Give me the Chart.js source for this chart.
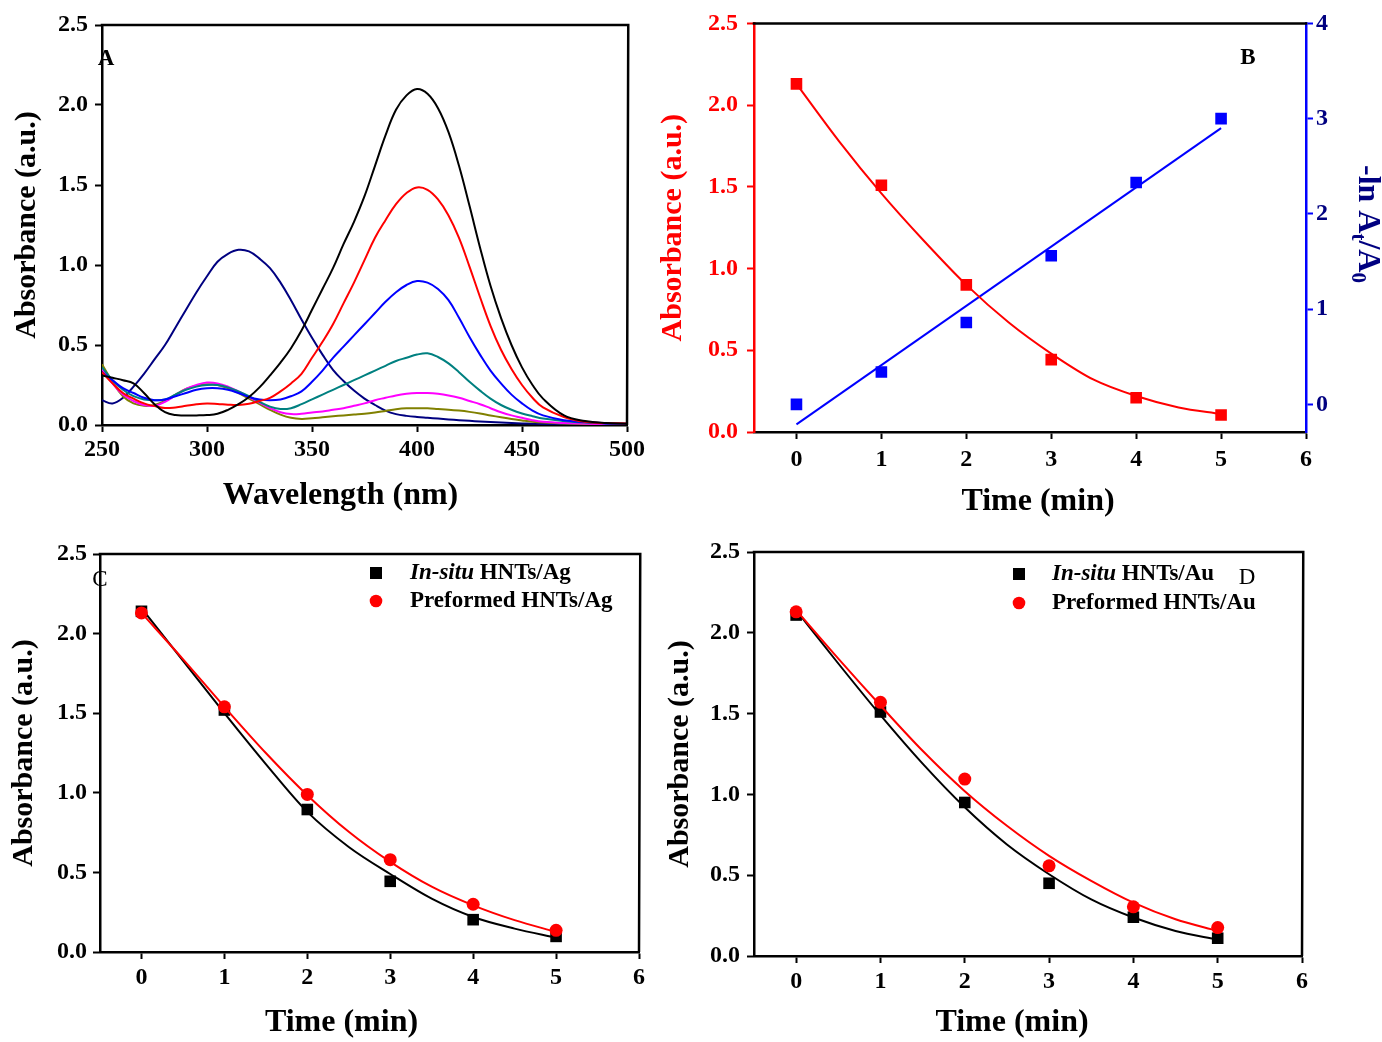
<!DOCTYPE html>
<html>
<head>
<meta charset="utf-8">
<script src="https://cdn.jsdelivr.net/npm/chart.js@4.4.1/dist/chart.umd.min.js"></script>
<style>
  html, body { margin: 0; padding: 0; background: #fff; overflow: hidden; }
  #page { position: relative; width: 1382px; height: 1042px; }
  #page canvas { position: absolute; }
</style>
</head>
<body>
<div id="page">
  <canvas id="chartA" width="680" height="525" style="left:0;top:0"></canvas>
  <canvas id="chartB" width="742" height="525" style="left:640px;top:0"></canvas>
  <canvas id="chartC" width="680" height="512" style="left:0;top:530px"></canvas>
  <canvas id="chartD" width="742" height="512" style="left:640px;top:530px"></canvas>
</div>
<script>
// ---- panel A: UV-vis spectra ----
var wavelength = [250,255,260,265,270,275,280,285,290,295,300,305,310,315,320,325,330,335,340,345,
                  350,355,360,365,370,375,380,385,390,395,400,405,410,415,420,425,430,435,440,445,
                  450,455,460,470,480,490,500];
var specBlack = [0.31,0.295,0.28,0.26,0.20,0.13,0.08,0.062,0.06,0.06,0.062,0.07,0.095,0.13,0.175,0.235,0.31,0.39,0.48,0.59,
                 0.72,0.85,0.98,1.13,1.27,1.43,1.62,1.81,1.97,2.06,2.10,2.07,1.98,1.83,1.62,1.37,1.11,0.87,0.67,0.50,
                 0.36,0.25,0.165,0.06,0.025,0.012,0.008];
var specRed = [0.33,0.26,0.20,0.165,0.135,0.118,0.106,0.11,0.12,0.13,0.135,0.132,0.127,0.125,0.133,0.15,0.17,0.21,0.26,0.32,
               0.42,0.52,0.63,0.76,0.89,1.03,1.17,1.28,1.38,1.45,1.485,1.47,1.41,1.31,1.17,0.99,0.80,0.62,0.47,0.35,
               0.25,0.17,0.11,0.05,0.02,0.012,0.01];
var specBlue = [0.33,0.28,0.23,0.20,0.17,0.155,0.16,0.18,0.20,0.22,0.23,0.23,0.22,0.20,0.175,0.16,0.155,0.16,0.18,0.21,
                0.27,0.34,0.42,0.49,0.56,0.63,0.70,0.77,0.83,0.875,0.90,0.89,0.85,0.78,0.67,0.55,0.44,0.34,0.26,0.19,
                0.135,0.09,0.06,0.03,0.018,0.01,0.008];
var specTeal = [0.36,0.28,0.22,0.18,0.16,0.155,0.16,0.19,0.22,0.24,0.25,0.25,0.235,0.21,0.18,0.145,0.115,0.10,0.105,0.13,
                0.16,0.19,0.22,0.25,0.28,0.31,0.34,0.37,0.40,0.42,0.44,0.448,0.425,0.385,0.33,0.27,0.215,0.165,0.125,0.095,
                0.072,0.055,0.04,0.025,0.015,0.01,0.008];
var specMagenta = [0.35,0.26,0.19,0.15,0.125,0.12,0.145,0.185,0.225,0.25,0.265,0.26,0.24,0.21,0.175,0.14,0.105,0.08,0.068,0.07,
                   0.078,0.085,0.095,0.105,0.12,0.135,0.155,0.17,0.185,0.195,0.2,0.2,0.195,0.185,0.17,0.15,0.13,0.105,0.08,0.06,
                   0.045,0.03,0.02,0.012,0.008,0.005,0.004];
var specOlive = [0.38,0.27,0.18,0.135,0.12,0.125,0.15,0.19,0.225,0.245,0.255,0.25,0.23,0.20,0.165,0.13,0.095,0.065,0.045,0.038,
                 0.042,0.048,0.054,0.06,0.065,0.07,0.078,0.088,0.098,0.104,0.105,0.104,0.10,0.096,0.09,0.082,0.072,0.06,0.048,0.037,
                 0.028,0.02,0.015,0.01,0.006,0.004,0.003];
var specNavy = [0.155,0.135,0.17,0.24,0.32,0.41,0.50,0.61,0.72,0.83,0.93,1.02,1.07,1.095,1.085,1.04,0.98,0.89,0.78,0.66,
                0.545,0.44,0.345,0.275,0.215,0.165,0.125,0.09,0.068,0.057,0.05,0.045,0.04,0.035,0.03,0.026,0.022,0.018,0.015,0.012,
                0.01,0.008,0.006,0.004,0.003,0.002,0.002];

// ---- panels B, C, D: kinetics ----
var timePts = [0, 1, 2, 3, 4, 5];
var fitTime = [0, 0.5, 1, 1.5, 2, 2.5, 3, 3.5, 4, 4.5, 5];
var absB = [2.13, 1.51, 0.90, 0.443, 0.21, 0.104];
var absFitB = [2.13, 1.78, 1.46, 1.17, 0.90, 0.67, 0.48, 0.32, 0.22, 0.15, 0.11];
var lnB = [0.0, 0.34, 0.86, 1.56, 2.33, 3.0];
var lnFitTime = [0, 5];
var lnFitB = [-0.21, 2.90];

var insituAg = [2.14, 1.52, 0.895, 0.444, 0.203, 0.098];
var preformedAg = [2.13, 1.54, 0.99, 0.58, 0.30, 0.136];
var insituAgFit = [2.16, 1.83, 1.50, 1.18, 0.88, 0.66, 0.49, 0.335, 0.22, 0.147, 0.09];
var preformedAgFit = [2.13, 1.84, 1.54, 1.25, 0.985, 0.755, 0.566, 0.41, 0.293, 0.20, 0.126];

var insituAu = [2.11, 1.51, 0.95, 0.45, 0.24, 0.11];
var preformedAu = [2.13, 1.57, 1.095, 0.558, 0.304, 0.176];
var insituAuFit = [2.14, 1.81, 1.49, 1.19, 0.92, 0.69, 0.506, 0.35, 0.238, 0.155, 0.10];
var preformedAuFit = [2.14, 1.84, 1.55, 1.27, 1.02, 0.806, 0.62, 0.465, 0.33, 0.227, 0.155];

// tick labels
var waveTicks = [250, 300, 350, 400, 450, 500];
var absTicks = [0, 0.5, 1.0, 1.5, 2.0, 2.5];
var timeTicks = [0, 1, 2, 3, 4, 5, 6];
var lnTicks = [0, 1, 2, 3, 4];

var SERIF = "'Times New Roman', 'Liberation Serif', serif";
var tickFont = {family: SERIF, size: 24, weight: 'bold'};
var xTitleFont = {family: SERIF, size: 32, weight: 'bold', lineHeight: 1.2};
var yTitleFont = {family: SERIF, size: 30, weight: 'bold', lineHeight: 1.2};
var NBSP = '\u00a0';

function pairs(xs, ys) {
    return xs.map(function (x, i) { return {x: x, y: ys[i]}; });
}
function setTicks(values) {
    return function (scale) {
        scale.ticks = values.map(function (v) { return {value: v}; });
    };
}
function fixSize(prop, size) {
    return function (scale) { scale[prop] = size; };
}
function oneDecimal(v) { return Number(v).toFixed(1); }
function plain(v) { return String(v); }

// the x titles sit a little left of the plot centre in the original,
// so pad the right side with non-breaking spaces
function shifted(text, n) { return text + new Array(n + 1).join(NBSP); }

function xAxis(c) {
    return {
        type: 'linear', position: 'bottom', min: c.min, max: c.max,
        afterBuildTicks: setTicks(c.ticks),
        afterFit: fixSize('height', c.height),
        border: {display: true, color: '#000', width: 2.5},
        grid: {drawOnChartArea: false, drawTicks: true, tickLength: 7, tickWidth: 2, tickColor: '#000'},
        ticks: {color: '#000', font: tickFont, padding: c.tickPad, maxRotation: 0, autoSkip: false, callback: plain},
        title: {display: true, text: c.title, color: '#000', font: xTitleFont, padding: {top: 0, bottom: c.titlePad}}
    };
}
function yAxis(c) {
    var color = c.color || '#000';
    return {
        type: 'linear', position: c.position || 'left', min: c.min, max: c.max,
        afterBuildTicks: setTicks(c.ticks),
        afterFit: fixSize('width', c.width),
        border: {display: true, color: c.borderColor || color, width: 2.5},
        grid: {drawOnChartArea: false, drawTicks: true, tickLength: 7, tickWidth: 2, tickColor: c.borderColor || color},
        ticks: {color: c.labelColor || color, font: tickFont, padding: c.tickPad, callback: c.fmt || oneDecimal},
        title: {display: !!c.title, text: c.title, color: color, font: yTitleFont, padding: {top: c.titlePad || 0, bottom: 0}}
    };
}
function spectrum(label, ys, color) {
    return {label: label, data: pairs(wavelength, ys), borderColor: color, borderWidth: 2,
            pointRadius: 0, fill: false, tension: 0.4};
}
function curve(label, xs, ys, color, axis) {
    return {label: label, data: pairs(xs, ys), borderColor: color, borderWidth: 2,
            pointRadius: 0, fill: false, cubicInterpolationMode: 'monotone', yAxisID: axis || 'y'};
}
function markers(label, xs, ys, color, style, radius, axis) {
    return {label: label, data: pairs(xs, ys), showLine: false, pointStyle: style,
            pointRadius: radius, pointHoverRadius: radius, pointBackgroundColor: color,
            pointBorderWidth: 0, backgroundColor: color, borderColor: color, yAxisID: axis || 'y'};
}

// top/right frame lines
var framePlugin = {
    id: 'frame',
    afterDatasetsDraw: function (chart, args, opts) {
        var a = chart.chartArea, ctx = chart.ctx;
        ctx.save();
        ctx.lineWidth = 2.5;
        ctx.strokeStyle = '#000';
        ctx.beginPath();
        ctx.moveTo(a.left - 1.25, a.top);
        ctx.lineTo(a.right + 1.25, a.top);
        if (opts.right !== false) ctx.lineTo(a.right, a.bottom);
        ctx.stroke();
        ctx.restore();
    }
};

// panel letter A/B/C/D
var letterPlugin = {
    id: 'panelLetter',
    afterDraw: function (chart, args, opts) {
        if (!opts.text) return;
        var ctx = chart.ctx;
        ctx.save();
        ctx.font = (opts.bold ? 'bold ' : '') + '23px ' + SERIF;
        ctx.fillStyle = '#000';
        ctx.textAlign = 'center';
        ctx.textBaseline = 'middle';
        ctx.fillText(opts.text, opts.x, opts.y);
        ctx.restore();
    }
};

// legend with italic "In-situ"
var keyPlugin = {
    id: 'seriesKey',
    afterDraw: function (chart, args, opts) {
        if (!opts.items) return;
        var ctx = chart.ctx;
        ctx.save();
        opts.items.forEach(function (it, i) {
            var y = opts.y + i * opts.gap;
            ctx.fillStyle = it.color;
            Chart.helpers.drawPoint(ctx, {pointStyle: it.style, radius: it.radius, borderWidth: 0, rotation: 0}, opts.markX, y);
            ctx.fillStyle = '#000';
            ctx.textBaseline = 'middle';
            ctx.textAlign = 'left';
            var x = opts.textX;
            if (it.italic) {
                ctx.font = 'italic bold 23px ' + SERIF;
                ctx.fillText(it.italic, x, y);
                x += ctx.measureText(it.italic).width;
            }
            ctx.font = 'bold 23px ' + SERIF;
            ctx.fillText(it.text, x, y);
        });
        ctx.restore();
    }
};

// right-hand title of panel B: -ln At/A0
var rightTitlePlugin = {
    id: 'rightTitle',
    afterDraw: function (chart, args, opts) {
        if (!opts.show) return;
        var ctx = chart.ctx;
        var parts = [
            {t: '-ln A', size: 32, dy: 0},
            {t: 't', size: 21, dy: 7},
            {t: '/A', size: 32, dy: 0},
            {t: '0', size: 21, dy: 7}
        ];
        ctx.save();
        ctx.fillStyle = opts.color;
        ctx.textBaseline = 'alphabetic';
        ctx.textAlign = 'left';
        var total = 0;
        parts.forEach(function (p) {
            ctx.font = 'bold ' + p.size + 'px ' + SERIF;
            p.w = ctx.measureText(p.t).width;
            total += p.w;
        });
        ctx.translate(opts.x, opts.y);
        ctx.rotate(Math.PI / 2);
        var x = -total / 2;
        parts.forEach(function (p) {
            ctx.font = 'bold ' + p.size + 'px ' + SERIF;
            ctx.fillText(p.t, x, p.dy);
            x += p.w;
        });
        ctx.restore();
    }
};

var common = {responsive: false, animation: false, devicePixelRatio: 1, events: []};
var allPlugins = [framePlugin, letterPlugin, keyPlugin, rightTitlePlugin];

// ---------- A ----------
new Chart(document.getElementById('chartA'), {
    type: 'line',
    data: {datasets: [
        spectrum('black', specBlack, '#000000'),
        spectrum('red', specRed, '#ff0000'),
        spectrum('blue', specBlue, '#0000ff'),
        spectrum('teal', specTeal, '#008080'),
        spectrum('magenta', specMagenta, '#ff00ff'),
        spectrum('olive', specOlive, '#808000'),
        spectrum('navy', specNavy, '#000080')
    ]},
    options: Object.assign({}, common, {
        layout: {padding: {left: 0, right: 53, top: 25, bottom: 0}},
        scales: {
            x: xAxis({min: 250, max: 500, ticks: waveTicks, height: 100, tickPad: 3,
                      title: shifted('Wavelength (nm)', 6), titlePad: 10}),
            y: yAxis({min: 0, max: 2.5, ticks: absTicks, width: 102, tickPad: 7,
                      title: 'Absorbance (a.u.)', titlePad: 9})
        },
        plugins: {legend: {display: false}, tooltip: {enabled: false},
                  frame: {}, panelLetter: {text: 'A', bold: true, x: 106, y: 59}}
    }),
    plugins: allPlugins
});

// ---------- B ----------
new Chart(document.getElementById('chartB'), {
    type: 'line',
    data: {datasets: [
        curve('abs fit', fitTime, absFitB, '#ff0000', 'y'),
        markers('abs', timePts, absB, '#ff0000', 'rect', 8.2, 'y'),
        curve('ln fit', lnFitTime, lnFitB, '#0000ff', 'y2'),
        markers('ln', timePts, lnB, '#0000ff', 'rect', 8.2, 'y2')
    ]},
    options: Object.assign({}, common, {
        layout: {padding: {left: 0, right: 0, top: 23, bottom: 0}},
        scales: {
            x: xAxis({min: -0.5, max: 6, ticks: timeTicks, height: 93, tickPad: 6,
                      title: NBSP + NBSP + 'Time (min)', titlePad: 4}),
            y: yAxis({min: 0, max: 2.5, ticks: absTicks, width: 114, tickPad: 9, color: '#ff0000',
                      title: 'Absorbance (a.u.)', titlePad: 15}),
            y2: yAxis({position: 'right', min: -0.29, max: 4, ticks: lnTicks, width: 76, tickPad: 3,
                       borderColor: '#0000ff', labelColor: '#000080', fmt: plain})
        },
        plugins: {legend: {display: false}, tooltip: {enabled: false},
                  frame: {right: false}, panelLetter: {text: 'B', bold: true, x: 608, y: 58},
                  rightTitle: {show: true, x: 719, y: 224, color: '#000080'}}
    }),
    plugins: allPlugins
});

// ---------- C ----------
new Chart(document.getElementById('chartC'), {
    type: 'line',
    data: {datasets: [
        Object.assign(curve('preformed fit', fitTime, preformedAgFit, '#ff0000'), {order: 0}),
        Object.assign(markers('Preformed HNTs/Ag', timePts, preformedAg, '#ff0000', 'circle', 6.5), {order: 0}),
        Object.assign(curve('in-situ fit', fitTime, insituAgFit, '#000000'), {order: 1}),
        Object.assign(markers('In-situ HNTs/Ag', timePts, insituAg, '#000000', 'rect', 8.2), {order: 1})
    ]},
    options: Object.assign({}, common, {
        layout: {padding: {left: 0, right: 41, top: 24, bottom: 0}},
        scales: {
            x: xAxis({min: -0.5, max: 6, ticks: timeTicks, height: 90, tickPad: 4,
                      title: shifted('Time (min)', 7), titlePad: 0}),
            y: yAxis({min: 0, max: 2.5, ticks: absTicks, width: 100, tickPad: 6,
                      title: 'Absorbance (a.u.)', titlePad: 6})
        },
        plugins: {legend: {display: false}, tooltip: {enabled: false},
                  frame: {}, panelLetter: {text: 'C', bold: false, x: 100, y: 50},
                  seriesKey: {markX: 376, textX: 410, y: 43, gap: 28, items: [
                      {style: 'rect', radius: 8.5, color: '#000', italic: 'In-situ', text: ' HNTs/Ag'},
                      {style: 'circle', radius: 6.3, color: '#ff0000', italic: '', text: 'Preformed HNTs/Ag'}
                  ]}}
    }),
    plugins: allPlugins
});

// ---------- D ----------
new Chart(document.getElementById('chartD'), {
    type: 'line',
    data: {datasets: [
        Object.assign(curve('preformed fit', fitTime, preformedAuFit, '#ff0000'), {order: 0}),
        Object.assign(markers('Preformed HNTs/Au', timePts, preformedAu, '#ff0000', 'circle', 6.5), {order: 0}),
        Object.assign(curve('in-situ fit', fitTime, insituAuFit, '#000000'), {order: 1}),
        Object.assign(markers('In-situ HNTs/Au', timePts, insituAu, '#000000', 'rect', 8.2), {order: 1})
    ]},
    options: Object.assign({}, common, {
        layout: {padding: {left: 0, right: 80, top: 22, bottom: 0}},
        scales: {
            x: xAxis({min: -0.5, max: 6, ticks: timeTicks, height: 86, tickPad: 4,
                      title: shifted('Time (min)', 4), titlePad: 0}),
            y: yAxis({min: 0, max: 2.5, ticks: absTicks, width: 114, tickPad: 7,
                      title: 'Absorbance (a.u.)', titlePad: 22})
        },
        plugins: {legend: {display: false}, tooltip: {enabled: false},
                  frame: {}, panelLetter: {text: 'D', bold: false, x: 607, y: 48},
                  seriesKey: {markX: 379, textX: 412, y: 44, gap: 29, items: [
                      {style: 'rect', radius: 8.5, color: '#000', italic: 'In-situ', text: ' HNTs/Au'},
                      {style: 'circle', radius: 6.3, color: '#ff0000', italic: '', text: 'Preformed HNTs/Au'}
                  ]}}
    }),
    plugins: allPlugins
});
</script>
</body>
</html>
